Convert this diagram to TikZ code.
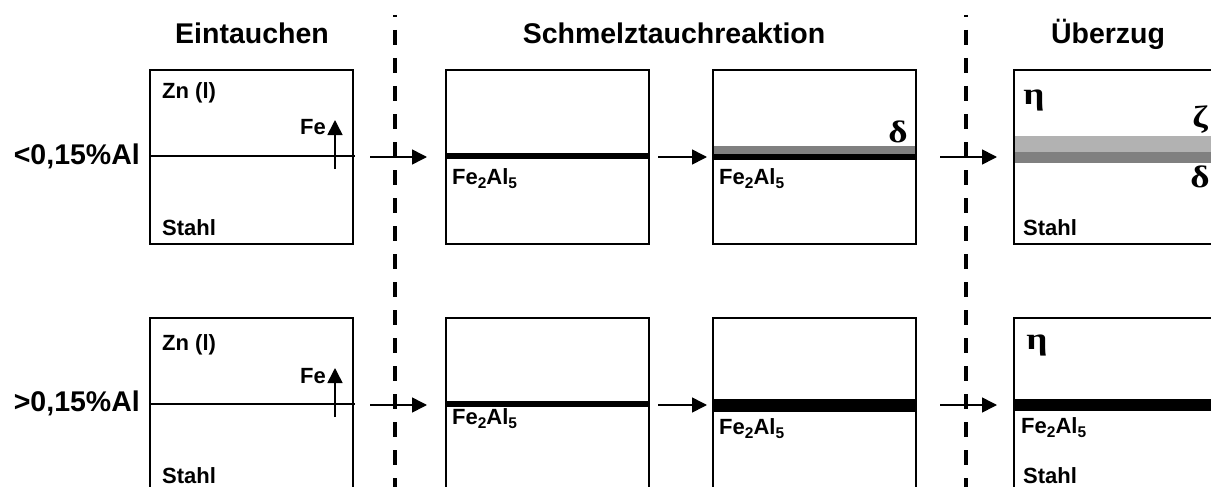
\documentclass[tikz,border=0pt]{standalone}
\usepackage{fontspec}
\setmainfont{Liberation Sans}
\newfontfamily\grk{Liberation Serif}[FakeStretch=1.2]
\usetikzlibrary{arrows.meta,backgrounds}
\definecolor{zetagray}{gray}{0.70}
\definecolor{deltagray}{gray}{0.50}
\newcommand\chemsub[1]{\raisebox{-0.22em}{\fontsize{15.5}{16}\selectfont #1}}
\newcommand\FeAl{Fe\chemsub{2}Al\chemsub{5}}

\begin{document}
\begin{tikzpicture}[x=1pt,y=-1pt,
  stage/.style={draw=black, line width=2pt, minimum width=203pt, minimum height=174pt,
    anchor=north west, inner sep=0pt, outer sep=0pt},
  head/.style={font=\bfseries\fontsize{28.5}{30}\selectfont, inner sep=0pt, anchor=base},
  rowlab/.style={font=\bfseries\fontsize{28.5}{30}\selectfont, inner sep=0pt, anchor=base east},
  lab/.style={font=\bfseries\fontsize{22}{24}\selectfont, inner sep=0pt, anchor=base west},
  labr/.style={lab, anchor=base east},
  greek/.style={font=\grk\bfseries\fontsize{31}{32}\selectfont, inner sep=0pt},
  flow/.style={line width=1.6pt, -{Triangle[length=15pt,width=15pt]}},
  divider/.style={line width=3.3pt, dash pattern=on 15pt off 13pt, dash phase=13pt},
  interface/.style={line width=2pt},
]
\useasboundingbox (0,0) rectangle (1211,487);
\clip (0,0) rectangle (1211,487);

% column headings
\node[head] (h1) at (252,44) {Eintauchen};
\node[head] (h2) at (674,44) {Schmelztauchreaktion};
\node[head] (h3) at (1108,44) {Überzug};

% dashed dividers between the stages
\coordinate (d1s) at (395,15);
\coordinate (d1e) at (395,490);
\coordinate (d2s) at (966,15);
\coordinate (d2e) at (966,490);
\draw[divider] (d1s) -- (d1e);
\draw[divider] (d2s) -- (d2e);

% row labels
\node[rowlab] (r1) at (140,164) {<0,15\%Al};
\node[rowlab] (r2) at (140,411) {>0,15\%Al};

% cross-section boxes
\node[stage] (a1) at (150,70) {};
\node[stage] (a2) at (446,70) {};
\node[stage] (a3) at (713,70) {};
\node[stage] (a4) at (1014,70) {};
\node[stage] (b1) at (150,318) {};
\node[stage] (b2) at (446,318) {};
\node[stage] (b3) at (713,318) {};
\node[stage] (b4) at (1014,318) {};

% layers inside the boxes
\begin{scope}[on background layer]
  % upper row
  \draw[interface] (150,156) -- (355,156);
  \fill[black] (446,153) rectangle (649,159);
  \fill[deltagray] (713,146) rectangle (917,154);
  \fill[black] (713,154) rectangle (917,160);
  \fill[zetagray] (1014,136) rectangle (1217,152);
  \fill[deltagray] (1014,152) rectangle (1217,163);
  % lower row
  \draw[interface] (150,404) -- (355,404);
  \fill[black] (446,401) rectangle (649,407);
  \fill[black] (713,399) rectangle (917,412);
  \fill[black] (1014,399) rectangle (1217,411);
\end{scope}

% process arrows
\draw[flow] ([xshift=17pt]a1.east) -- ([xshift=-19pt]a2.west);
\draw[flow] ([xshift=9pt]a2.east) -- ([xshift=-6pt]a3.west);
\draw[flow] ([xshift=24pt]a3.east) -- ([xshift=-17pt]a4.west);
\draw[flow] ([xshift=17pt]b1.east) -- ([xshift=-19pt]b2.west);
\draw[flow] ([xshift=9pt]b2.east) -- ([xshift=-6pt]b3.west);
\draw[flow] ([xshift=24pt]b3.east) -- ([xshift=-17pt]b4.west);

% iron diffusion arrows
\coordinate (fa1) at (335,169);
\coordinate (fa2) at (335,120);
\coordinate (fb1) at (335,417);
\coordinate (fb2) at (335,368);
\draw[flow] (fa1) -- (fa2);
\draw[flow] (fb1) -- (fb2);

% labels, upper row
\node[lab] (a1zn) at (162,99) {Zn (l)};
\node[labr] (a1fe) at (326,135) {Fe};
\node[lab] (a1st) at (162,235) {Stahl};
\node[lab] (a2fa) at (452,184) {\FeAl};
\node[lab] (a3fa) at (719,184) {\FeAl};
\node[greek] (a3d) at (898,132) {δ};
\node[greek] (a4e) at (1034,100) {η};
\node[greek] (a4z) at (1200,120) {ζ};
\node[greek] (a4d) at (1200,177) {δ};
\node[lab] (a4st) at (1023,235) {Stahl};

% labels, lower row
\node[lab] (b1zn) at (162,350) {Zn (l)};
\node[labr] (b1fe) at (326,383) {Fe};
\node[lab] (b1st) at (162,483) {Stahl};
\node[lab] (b2fa) at (452,424) {\FeAl};
\node[lab] (b3fa) at (719,434) {\FeAl};
\node[greek] (b4e) at (1037,345) {η};
\node[lab] (b4fa) at (1021,433) {\FeAl};
\node[lab] (b4st) at (1023,483) {Stahl};
\end{tikzpicture}
\end{document}
